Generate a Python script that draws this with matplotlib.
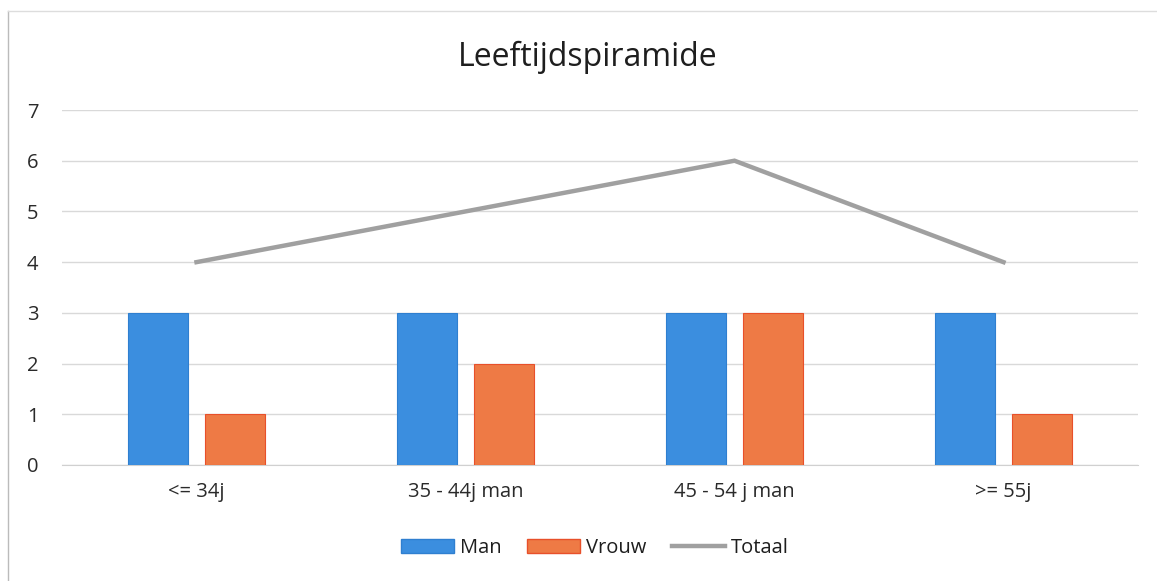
import matplotlib
matplotlib.use("Agg")
import matplotlib.pyplot as plt
import numpy as np
from matplotlib.lines import Line2D
from matplotlib.patches import Patch

categories = ["<= 34j", "35 - 44j man", "45 - 54 j man", ">= 55j"]
man = [3, 3, 3, 3]
vrouw = [1, 2, 3, 1]
totaal = [4, 5, 6, 4]

blue = "#3B8EDF"
orange = "#EE7A45"
gray = "#A0A0A0"

plt.rcParams['font.family'] = ['Open Sans', 'DejaVu Sans']

W, H = 1157, 581
fig = plt.figure(figsize=(W / 100, H / 100), dpi=100)
ax = fig.add_axes([62 / W, 1 - 465 / H, (1138 - 62) / W, (465 - 110) / H])

x = np.arange(len(categories))
bw = 0.222
off = 0.143
ax.bar(x - off, man, bw, color=blue, edgecolor="#2F7FD0", linewidth=0.8, zorder=3)
ax.bar(x + off, vrouw, bw, color=orange, edgecolor="#E8502A", linewidth=0.8, zorder=3)
ax.plot(x, totaal, color=gray, linewidth=3.2, zorder=4, solid_joinstyle="miter")

ax.set_xlim(-0.5, len(categories) - 0.5)
ax.set_ylim(0, 7)
ax.set_yticks(range(0, 8))
ax.set_xticks(x)
ax.set_xticklabels(categories)
ax.grid(axis="y", color="#D9D9D9", linewidth=1, zorder=0)
for s in ["top", "right", "left"]:
    ax.spines[s].set_visible(False)
ax.spines["bottom"].set_color("#D0D0D0")
ax.tick_params(axis="both", length=0, labelsize=14.5, colors="#2A2A2A")
ax.tick_params(axis="y", pad=17)
ax.tick_params(axis="x", pad=12)

fig.text(588 / W, 1 - 57 / H, "Leeftijdspiramide", ha="center", va="center",
         fontsize=23, color="#1E1E1E")

handles = [Patch(facecolor=blue, edgecolor="#2F7FD0"),
           Patch(facecolor=orange, edgecolor="#E8502A"),
           Line2D([0], [0], color=gray, linewidth=3.2)]
fig.legend(handles, ["Man", "Vrouw", "Totaal"], loc="center",
           bbox_to_anchor=(595 / W, 1 - 548 / H), ncol=3, frameon=False,
           fontsize=14.5, handlelength=2.6, handleheight=0.7, columnspacing=1.3,
           handletextpad=0.3, labelcolor="#1E1E1E")

# chart border (top and left edges visible)
fig.add_artist(Line2D([8 / W, 8 / W], [0, 1 - 11 / H], color="#BBBBBB", linewidth=1,
                      transform=fig.transFigure))
fig.add_artist(Line2D([8 / W, 1], [1 - 11 / H, 1 - 11 / H], color="#DDDDDD", linewidth=1,
                      transform=fig.transFigure))

fig.savefig("out.png", dpi=100)
